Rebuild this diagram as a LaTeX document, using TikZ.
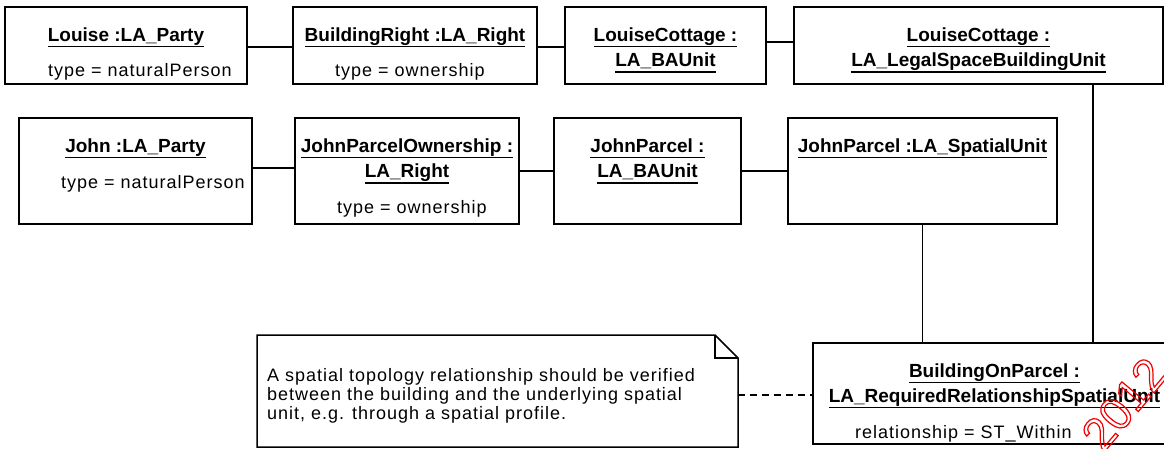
\documentclass[tikz,border=0pt]{standalone}
\usepackage{fontspec}
\setmainfont{Liberation Sans}
\newfontfamily\attrfont[LetterSpace=5.5]{Liberation Sans}
\begin{document}
\begin{tikzpicture}[x=1pt,y=-1pt,
  box/.style={draw, line width=1.5pt, rectangle, anchor=north west, inner sep=0pt, outer sep=0pt},
  ttl/.style={font=\fontsize{19}{22}\selectfont\bfseries, inner sep=0pt, outer sep=0pt, anchor=base},
  attr/.style={font=\attrfont\fontsize{18}{20}\selectfont, inner sep=0pt, anchor=base west},
  uline/.style={line width=1.4pt},
  conn/.style={line width=1.3pt},
  notedash/.style={line width=1.3pt, dash pattern=on 7pt off 5pt}
]
\fill[white] (0,0) rectangle (1164,448);
\useasboundingbox (0,0) rectangle (1164,448);
\clip (0,0) rectangle (1164,448);
\newcommand\utl[4]{\node[ttl] (#1) at (#2,#3) {#4};
  \draw[uline] ([yshift=-5.5pt]#1.base west) -- ([yshift=-5.5pt]#1.base east);}

% boxes
\node[box, minimum width=242pt, minimum height=77pt] (louise) at (5,7) {};
\node[box, minimum width=244pt, minimum height=77pt] (br) at (293,7) {};
\node[box, minimum width=201pt, minimum height=77pt] (lcba) at (565,7) {};
\node[box, minimum width=369pt, minimum height=77pt] (ls) at (794,7) {};
\node[box, minimum width=233pt, minimum height=106pt] (john) at (19,118) {};
\node[box, minimum width=224pt, minimum height=106pt] (jpo) at (295,118) {};
\node[box, minimum width=187pt, minimum height=106pt] (jpba) at (554,118) {};
\node[box, minimum width=269pt, minimum height=106pt] (jpsu) at (788,118) {};
\node[box, minimum width=363pt, minimum height=101pt] (bop) at (813,343) {};
\node[anchor=north west, inner sep=0pt, outer sep=0pt, minimum width=481pt, minimum height=112pt] (note) at (257,335) {};

% titles
\utl{t1}{126}{41}{Louise :LA\_Party}
\utl{t2}{415}{41}{BuildingRight :LA\_Right}
\utl{t3a}{665.5}{41}{LouiseCottage :}
\utl{t3b}{665.5}{66.5}{LA\_BAUnit}
\utl{t4a}{978.5}{41}{LouiseCottage :}
\utl{t4b}{978.5}{66.5}{LA\_LegalSpaceBuildingUnit}
\utl{t5}{135.5}{152}{John :LA\_Party}
\utl{t6a}{407}{152}{JohnParcelOwnership :}
\utl{t6b}{407}{177.5}{LA\_Right}
\utl{t7a}{647.5}{152}{JohnParcel :}
\utl{t7b}{647.5}{177.5}{LA\_BAUnit}
\utl{t8}{922.5}{152}{JohnParcel :LA\_SpatialUnit}
\utl{t9a}{994.5}{377}{BuildingOnParcel :}
\utl{t9b}{994.5}{402}{LA\_RequiredRelationshipSpatialUnit}

% attributes
\node[attr] (a1) at (48,76) {type = naturalPerson};
\node[attr] (a2) at (335,76) {type = ownership};
\node[attr] (a5) at (61,188) {type = naturalPerson};
\node[attr] (a6) at (337,213) {type = ownership};
\node[attr] (a9) at (855,438) {relationship = ST\_Within};

% note
\draw[line width=1.5pt] (note.north west) -- ([xshift=-23pt]note.north east)
  -- ([yshift=-23pt]note.north east) -- (note.south east) -- (note.south west) -- cycle;
\draw[line width=1.5pt] ([xshift=-23pt]note.north east) -- ([xshift=-23pt,yshift=-23pt]note.north east)
  -- ([yshift=-23pt]note.north east);
\node[attr] (n1) at (267,381) {A spatial topology relationship should be verified};
\node[attr] (n2) at (267,400) {between the building and the underlying spatial};
\node[attr] (n3) at (267,419) {unit, e.g. through a spatial profile.};

% connectors
\draw[conn] ([yshift=-1.5pt]louise.east) -- ([yshift=-1.5pt]br.west);
\draw[conn] ([yshift=-1.5pt]br.east) -- ([yshift=-1.5pt]lcba.west);
\draw[conn] ([yshift=3.5pt]lcba.east) -- ([yshift=3.5pt]ls.west);
\draw[conn] ([yshift=3pt]john.east) -- ([yshift=3pt]jpo.west);
\draw[conn] (jpo.east) -- (jpba.west);
\draw[conn] (jpba.east) -- (jpsu.west);
\draw[conn] (jpsu.south) -- (jpsu.south |- bop.north);
\coordinate (lsdrop) at ([xshift=114.5pt]ls.south);
\draw[conn] (lsdrop) -- (lsdrop |- bop.north);
\coordinate (nd) at ([yshift=-4pt]note.east);
\draw[notedash] (nd) -- (nd -| bop.west);

% watermark
\node[font=\fontsize{46}{46}\selectfont, text=red!95!black, rotate=50, inner sep=0pt] (wm) at (1124,404)
  {\special{pdf:literal direct 1 Tr 1.2 w}2012\special{pdf:literal direct 0 Tr}};
\end{tikzpicture}
\end{document}
